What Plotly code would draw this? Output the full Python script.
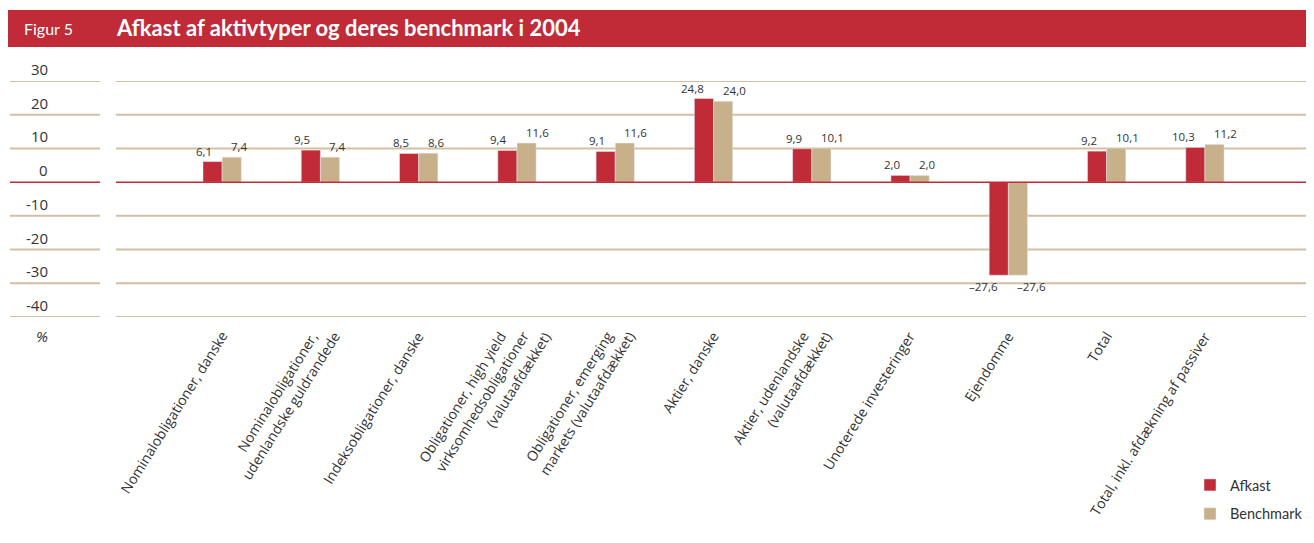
import plotly.graph_objects as go

categories = [
    "Nominalobligationer, danske",
    "Nominalobligationer,<br>udenlandske guldrandede",
    "Indeksobligationer, danske",
    "Obligationer, high yield<br>virksomhedsobligationer<br>(valutaafdækket)",
    "Obligationer, emerging<br>markets (valutaafdækket)",
    "Aktier, danske",
    "Aktier, udenlandske<br>(valutaafdækket)",
    "Unoterede investeringer",
    "Ejendomme",
    "Total",
    "Total, inkl. afdækning af passiver",
]
afkast = [6.1, 9.5, 8.5, 9.4, 9.1, 24.8, 9.9, 2.0, -27.6, 9.2, 10.3]
benchmark = [7.4, 7.4, 8.6, 11.6, 11.6, 24.0, 10.1, 2.0, -27.6, 10.1, 11.2]
y_ticks = [30, 20, 10, 0, -10, -20, -30, -40]
y_tick_labels = ["30", "20", "10", "0", "-10", "-20", "-30", "-40"]

RED = "#C12A37"
TAN = "#C8B08A"
GRID = "#D3BFA3"
TXT = "#333333"
FONT = "Open Sans"
TFONT = "Lato"

# page body adds an 8px margin, so the figure is 8px smaller than the window
W, H = 1306, 535
ML, MR, MT, MB = 108, 0, 73, 226
PW = W - ML - MR
PH = H - MT - MB

def px_x(p):
    return (p - ML) / PW

def px_y(p):
    return (H - MB - p) / PH

def fmt(v):
    return f"{v:.1f}".replace(".", ",").replace("-", "\u2013")

fig = go.Figure()
fig.add_trace(go.Bar(x=categories, y=afkast, name="Afkast", marker_color=RED,
                     legendgroup="a", hoverinfo="y"))
fig.add_trace(go.Bar(x=categories, y=benchmark, name="Benchmark", marker_color=TAN,
                     legendgroup="b", hoverinfo="y"))

shapes = []
annotations = []

# value labels: red labels end near bar centre, tan labels start near bar centre
for cat, a, b in zip(categories, afkast, benchmark):
    for v, xs, anchor in ((a, -8, "right"), (b, 7, "left")):
        annotations.append(dict(
            text=fmt(v), x=cat, y=v, xref="x", yref="y",
            xshift=xs, yshift=(1 if v >= 0 else -2),
            xanchor=anchor, yanchor=("bottom" if v >= 0 else "top"),
            showarrow=False, font=dict(family=FONT, size=11.5, color=TXT)))

# category labels: each line rotated, line ends sharing the same top edge
LINE_STEP = 22
for cat in categories:
    lines = cat.split("<br>")
    n = len(lines)
    for i, line in enumerate(lines):
        off = 12 + (i - (n - 1) * 0.35) * LINE_STEP
        annotations.append(dict(
            text=line, x=cat, xref="x", y=0, yref="paper",
            xshift=off, yshift=-8, xanchor="right", yanchor="top",
            textangle=-58, showarrow=False,
            font=dict(family=FONT, size=14, color=TXT)))

# header bar
shapes.append(dict(type="rect", xref="paper", yref="paper",
                   x0=px_x(0), x1=px_x(W), y0=px_y(39), y1=px_y(2),
                   fillcolor=RED, line=dict(width=0), layer="above"))
annotations.append(dict(text="Figur 5", xref="paper", yref="paper",
                        x=px_x(14), y=px_y(21), xanchor="left", yanchor="middle",
                        showarrow=False, font=dict(family=TFONT, size=16, color="white")))
annotations.append(dict(text="<b>Afkast af aktivtyper og deres benchmark i 2004</b>",
                        xref="paper", yref="paper",
                        x=px_x(106), y=px_y(20), xanchor="left", yanchor="middle",
                        showarrow=False, font=dict(family=TFONT, size=22, color="white")))

for v, lab in zip(y_ticks, y_tick_labels):
    col = RED if v == 0 else GRID
    lw = 1.5 if v == 0 else 2
    shapes.append(dict(type="line", xref="paper", yref="y", x0=px_x(2), x1=px_x(92),
                       y0=v, y1=v, line=dict(color=col, width=lw), layer="below"))
    shapes.append(dict(type="line", xref="paper", yref="y", x0=0, x1=1,
                       y0=v, y1=v, line=dict(color=col, width=lw),
                       layer="above" if v == 0 else "below"))
    annotations.append(dict(text=lab, xref="paper", yref="y", x=px_x(42), y=v,
                            yshift=12, xanchor="right", yanchor="middle", showarrow=False,
                            font=dict(family=FONT, size=15, color=TXT)))

annotations.append(dict(text="<i>%</i>", xref="paper", yref="paper", x=px_x(34), y=px_y(328),
                        xanchor="center", yanchor="middle", showarrow=False,
                        font=dict(family=FONT, size=15, color=TXT)))

fig.update_layout(
    width=W, height=H,
    margin=dict(l=ML, r=MR, t=MT, b=MB, autoexpand=False),
    paper_bgcolor="white", plot_bgcolor="white",
    barmode="group", bargap=0.61, bargroupgap=0,
    font=dict(family=FONT, color=TXT),
    xaxis=dict(range=[-1.08, 11.11], showgrid=False, zeroline=False,
               showline=False, ticks="", showticklabels=False),
    yaxis=dict(range=[-40, 30], showgrid=False, zeroline=False, showticklabels=False,
               showline=False, ticks=""),
    legend=dict(x=px_x(1182), y=px_y(461), xanchor="left", yanchor="top",
                orientation="v", traceorder="grouped", tracegroupgap=7,
                font=dict(family=TFONT, size=14.5, color=TXT), bgcolor="rgba(0,0,0,0)"),
    showlegend=True,
    shapes=shapes, annotations=annotations,
)

fig.write_html("out.html")
